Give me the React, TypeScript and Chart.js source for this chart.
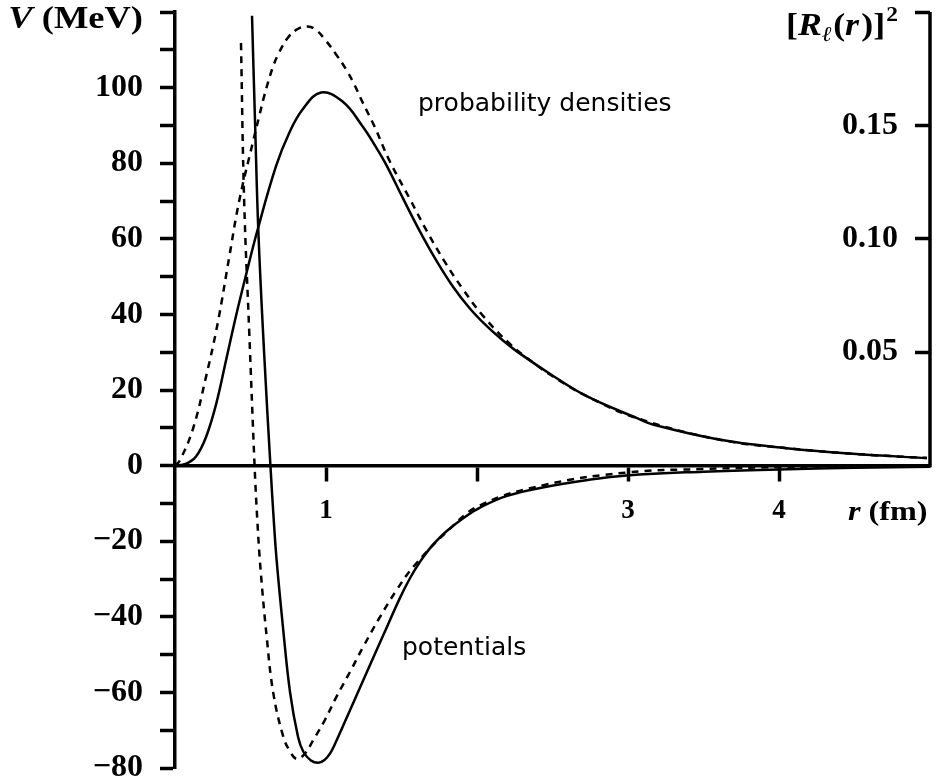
import React, { useEffect, useRef } from 'react';
import { Chart, registerables } from 'chart.js';

Chart.register(...registerables);

// ---------- data ----------
// potentials (left axis, MeV)
const rSolidPot = [0.51, 0.53, 0.552, 0.59, 0.632, 0.655, 0.673, 0.715, 0.762, 0.815, 0.85, 0.9, 0.95, 0.99, 1.026, 1.06, 1.159, 1.27, 1.379, 1.49, 1.556, 1.62, 1.68, 1.74, 1.8, 1.92, 2.02, 2.2, 2.46, 2.7, 2.99, 3.5, 4.0, 4.5, 5.0];
const vSolidPot = [119, 91, 62, 30, 0, -15, -25, -42.7, -60, -71.8, -75.7, -78, -78.6, -77.9, -76.2, -73.6, -64.7, -54.7, -44.9, -35, -29.8, -25.6, -22.3, -19.6, -17.3, -13.6, -11.1, -8, -5.6, -4, -2.6, -1.6, -1.0, -0.6, -0.3];

const rDashPot = [0.437, 0.458, 0.492, 0.527, 0.545, 0.567, 0.607, 0.651, 0.717, 0.76, 0.806, 0.86, 0.916, 0.99, 1.07, 1.16, 1.247, 1.358, 1.468, 1.58, 1.8, 2.02, 2.46, 3.0, 3.5, 4.0, 4.5, 5.0];
const vDashPot = [111.8, 70, 35, 0, -14.4, -27.6, -45.2, -60.2, -71.7, -75.5, -77.6, -76.2, -72.6, -67.5, -61.1, -54.5, -47.9, -40, -32.9, -26.7, -17.5, -10.5, -5.0, -1.8, -0.9, -0.4, -0.2, -0.1];

// probability densities (right axis)
const rSolidDen = [0, 0.07, 0.139, 0.205, 0.272, 0.34, 0.404, 0.47, 0.547, 0.669, 0.757, 0.846, 0.967, 1.11, 1.243, 1.33, 1.4, 1.51, 1.62, 1.73, 1.84, 1.95, 2.06, 2.17, 2.28, 2.51, 2.73, 3.06, 3.17, 3.61, 4.05, 4.49, 4.98];
const pSolidDen = [0, 0.0007, 0.004, 0.0125, 0.027, 0.047, 0.066, 0.084, 0.104, 0.132, 0.1468, 0.1571, 0.1645, 0.1605, 0.1495, 0.1405, 0.1325, 0.1178, 0.1035, 0.0905, 0.079, 0.0695, 0.0618, 0.0553, 0.0496, 0.0393, 0.0305, 0.0209, 0.018, 0.0114, 0.0077, 0.0052, 0.0033];

const rDashDen = [0, 0.03, 0.117, 0.205, 0.283, 0.36, 0.426, 0.515, 0.558, 0.591, 0.647, 0.69, 0.746, 0.812, 0.879, 0.934, 1.0, 1.066, 1.132, 1.187, 1.243, 1.32, 1.42, 1.556, 1.667, 1.79, 1.91, 2.04, 2.22, 2.37, 2.51, 2.73, 3.06, 3.61, 4.05, 4.49, 4.98];
const pDashDen = [0, 0.002, 0.0158, 0.039, 0.0629, 0.0923, 0.117, 0.1424, 0.1541, 0.163, 0.1755, 0.1822, 0.1885, 0.1925, 0.1936, 0.1921, 0.1873, 0.1814, 0.1748, 0.1681, 0.1601, 0.1497, 0.1345, 0.1175, 0.1035, 0.0895, 0.0775, 0.066, 0.0535, 0.0455, 0.039, 0.0305, 0.0209, 0.0114, 0.0077, 0.0052, 0.0033];

// ticks
const leftTicks = [-80, -70, -60, -50, -40, -30, -20, -10, 0, 10, 20, 30, 40, 50, 60, 70, 80, 90, 100, 110, 120];
const leftTickLabels = ['\u221280', '', '\u221260', '', '\u221240', '', '\u221220', '', '0', '', '20', '', '40', '', '60', '', '80', '', '100', '', ''];
const rightTicks = [0.05, 0.1, 0.15, 0.2];
const rightTickLabels = ['0.05', '0.10', '0.15', ''];
const xTicks = [1, 2, 3, 4];
const xTickLabels = ['1', '', '3', '4'];

const leftMin = -80;
const leftMax = 120;
const rightMax = 0.2;
const rightMin = (rightMax * leftMin) / leftMax;

const SERIF = '"Liberation Serif", "Times New Roman", serif';
const SANS = '"DejaVu Sans", sans-serif';

type Run = { text: string; font: string; dy?: number; gap?: number };

function drawRuns(ctx: CanvasRenderingContext2D, runs: Run[], x: number, y: number, align: 'left' | 'right', sx = 1) {
  ctx.save();
  ctx.textAlign = 'left';
  ctx.textBaseline = 'alphabetic';
  const widths = runs.map((r) => {
    ctx.font = r.font;
    return ctx.measureText(r.text).width;
  });
  const total = widths.reduce((a, w, i) => a + w + (runs[i].gap || 0), 0) * sx;
  const start = align === 'right' ? x - total : x;
  ctx.translate(start, y);
  ctx.scale(sx, 1);
  let cx = 0;
  runs.forEach((r, i) => {
    cx += r.gap || 0;
    ctx.font = r.font;
    ctx.fillText(r.text, cx, r.dy || 0);
    cx += widths[i];
  });
  ctx.restore();
}

const decorPlugin = {
  id: 'decor',
  afterDraw(chart: any) {
    const { ctx, chartArea, scales } = chart;
    const yR = scales.yR;
    ctx.save();
    // right axis line (only over the density range)
    ctx.strokeStyle = '#000';
    ctx.lineWidth = 3.5;
    ctx.beginPath();
    ctx.moveTo(chartArea.right, yR.getPixelForValue(0) + 1.75);
    ctx.lineTo(chartArea.right, yR.getPixelForValue(rightMax));
    ctx.stroke();

    ctx.fillStyle = '#000';
    const b32 = `bold 32px ${SERIF}`;
    const bi32 = `italic bold 32px ${SERIF}`;
    const b21 = `bold 21px ${SERIF}`;
    const bi21 = `italic bold 21px ${SERIF}`;
    drawRuns(ctx, [
      { text: 'V', font: bi32 },
      { text: ' (MeV)', font: b32 },
    ], 143, 28, 'right', 1.14);

    drawRuns(ctx, [
      { text: '[', font: b32 },
      { text: 'R', font: bi32 },
      { text: '\u2113', font: bi21, dy: 6 },
      { text: '(', font: b32, gap: 1 },
      { text: 'r', font: bi32 },
      { text: ')', font: b32, gap: 2 },
      { text: ']', font: b32 },
      { text: '2', font: b21, dy: -14, gap: 1 },
    ], 898, 35, 'right', 1.12);

    const b28 = `bold 28px ${SERIF}`;
    const bi28 = `italic bold 28px ${SERIF}`;
    drawRuns(ctx, [
      { text: 'r', font: bi28 },
      { text: ' (fm)', font: b28 },
    ], 848, 520, 'left', 1.15);

    drawRuns(ctx, [{ text: 'probability densities', font: `25px ${SANS}` }], 418, 111, 'left');
    drawRuns(ctx, [{ text: 'potentials', font: `25px ${SANS}` }], 402, 655, 'left');
    ctx.restore();
  },
};

function pts(xs: number[], ys: number[]) {
  return xs.map((x, i) => ({ x, y: ys[i] }));
}

export default function App() {
  const ref = useRef<HTMLCanvasElement>(null);
  useEffect(() => {
    const lineBase = {
      borderColor: '#000',
      borderWidth: 2.5,
      pointRadius: 0,
      fill: false,
      tension: 0.4,
    };
    const chart = new Chart(ref.current as HTMLCanvasElement, {
      type: 'line',
      data: {
        datasets: [
          { ...lineBase, data: pts(rSolidPot, vSolidPot), yAxisID: 'y' },
          { ...lineBase, data: pts(rDashPot, vDashPot), yAxisID: 'y', borderDash: [7, 6] },
          { ...lineBase, data: pts(rSolidDen, pSolidDen), yAxisID: 'yR' },
          { ...lineBase, data: pts(rDashDen, pDashDen), yAxisID: 'yR', borderDash: [7, 6] },
        ],
      },
      options: {
        animation: false,
        responsive: false,
        devicePixelRatio: 1,
        layout: { padding: { top: 12, bottom: 13, left: 0, right: 0 } },
        plugins: { legend: { display: false }, tooltip: { enabled: false } },
        scales: {
          x: {
            type: 'linear',
            position: { y: 0 } as any,
            min: 0,
            max: 5,
            afterBuildTicks: (s: any) => { s.ticks = xTicks.map((v) => ({ value: v })); },
            afterFit: (s: any) => { s.paddingLeft = 0; s.paddingRight = 0; },
            ticks: {
              autoSkip: false,
              maxRotation: 0,
              padding: 15,
              color: '#000',
              font: { family: SERIF, size: 27, weight: 'bold' },
              callback: (_v: any, i: number) => xTickLabels[i],
            },
            grid: { drawOnChartArea: false, drawTicks: true, tickLength: 14, tickWidth: 3.5, tickColor: '#000' },
            border: { display: true, color: '#000', width: 3.5 },
          },
          y: {
            type: 'linear',
            position: 'left',
            min: leftMin,
            max: leftMax,
            afterBuildTicks: (s: any) => { s.ticks = leftTicks.map((v) => ({ value: v })); },
            afterFit: (s: any) => { s.width = 175; s.paddingTop = 0; s.paddingBottom = 0; },
            ticks: {
              autoSkip: false,
              padding: 17,
              color: '#000',
              font: { family: SERIF, size: 32, weight: 'bold' },
              callback: (_v: any, i: number) => leftTickLabels[i],
            },
            grid: { drawOnChartArea: false, drawTicks: true, tickLength: 15, tickWidth: 3.5, tickColor: '#000' },
            border: { display: true, color: '#000', width: 3.5 },
          },
          yR: {
            type: 'linear',
            position: 'right',
            min: rightMin,
            max: rightMax,
            afterBuildTicks: (s: any) => { s.ticks = rightTicks.map((v) => ({ value: v })); },
            afterFit: (s: any) => { s.width = 12; s.paddingTop = 0; s.paddingBottom = 0; },
            ticks: {
              autoSkip: false,
              mirror: true,
              padding: -32,
              color: '#000',
              font: { family: SERIF, size: 32, weight: 'bold' },
              callback: (_v: any, i: number) => rightTickLabels[i],
            },
            grid: { drawOnChartArea: false, drawTicks: true, tickLength: -15, tickWidth: 3.5, tickColor: '#000' },
            border: { display: false },
          },
        },
      },
      plugins: [decorPlugin],
    } as any);
    return () => chart.destroy();
  }, []);
  return (
    <div style={{ position: 'absolute', left: 0, top: 0, width: 942, height: 781, background: '#fff' }}>
      <canvas ref={ref} width={942} height={781} style={{ display: 'block', width: 942, height: 781 }} />
    </div>
  );
}
